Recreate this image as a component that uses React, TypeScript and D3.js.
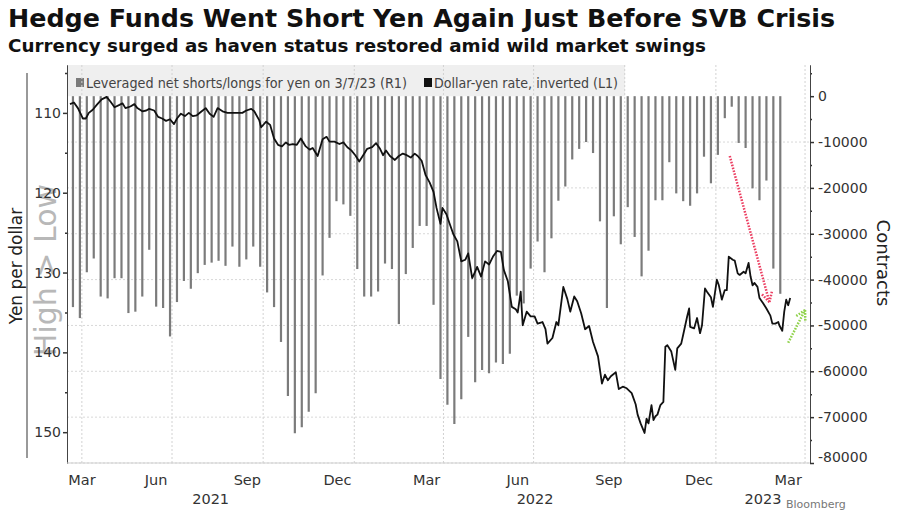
import React, { useRef, useEffect } from 'react';
import * as d3 from 'd3';

const title = 'Hedge Funds Went Short Yen Again Just Before SVB Crisis';
const subtitle = 'Currency surged as haven status restored amid wild market swings';
const legendShorts = 'Leveraged net shorts/longs for yen on 3/7/23 (R1)';
const legendRate = 'Dollar-yen rate, inverted (L1)';

// weekly CFTC report dates start here, one bar per week
const firstReport = '2021-03-23';
const netShorts = [
  -46000, -48400, -38400, -35400, -43700, -44100, -39700, -39700, -47300, -47000,
  -43700, -33500, -45900, -46200, -52400, -44900, -40300, -42000, -38600, -36800,
  -36300, -35900, -37000, -32800, -37200, -35600, -32800, -37200, -42800, -46000,
  -53600, -65400, -73500, -72200, -68800, -64800, -39100, -30900, -22900, -23600,
  -26100, -37700, -43700, -43700, -42600, -36500, -37700, -49700, -38800, -33100,
  -28300, -28300, -45500, -61700, -67300, -71500, -66100, -52500, -62400, -59700,
  -60400, -58100, -58400, -56200, -43500, -45200, -37600, -31700, -38400, -31000,
  -22800, -19700, -13800, -11500, -10000, -12400, -27300, -46200, -26200, -32300,
  -24200, -30700, -39300, -33700, -22700, -22700, -14400, -21200, -22900, -23900,
  -21200, -13200, -19000, -12800, -4800, -2300, -10200, -11300, -20100, -22700,
  -18400, -37600, -43100,
];

// dollar-yen, yen per dollar (plotted inverted)
const rate2021: [string, number][] = [
  ['2021-03-20', 108.9], ['2021-03-24', 108.7], ['2021-03-28', 109.4], ['2021-04-02', 110.7],
  ['2021-04-05', 110.7], ['2021-04-08', 110.0], ['2021-04-12', 109.6], ['2021-04-16', 109.0],
  ['2021-04-21', 108.3], ['2021-04-26', 108.0], ['2021-04-30', 108.6], ['2021-05-04', 109.3],
  ['2021-05-09', 109.0], ['2021-05-12', 108.8], ['2021-05-15', 109.4], ['2021-05-20', 109.2],
  ['2021-05-24', 108.9], ['2021-05-27', 109.4], ['2021-06-01', 109.8], ['2021-06-05', 109.7],
  ['2021-06-08', 109.5], ['2021-06-13', 109.7], ['2021-06-17', 110.5], ['2021-06-21', 110.7],
  ['2021-06-25', 111.0], ['2021-06-29', 110.8], ['2021-07-03', 111.4], ['2021-07-06', 110.7],
  ['2021-07-10', 110.1], ['2021-07-14', 110.4], ['2021-07-18', 110.0], ['2021-07-22', 110.4],
  ['2021-07-26', 110.3], ['2021-07-31', 109.8], ['2021-08-04', 109.4], ['2021-08-08', 110.1],
  ['2021-08-12', 110.5], ['2021-08-16', 109.4], ['2021-08-21', 109.8], ['2021-08-26', 110.0],
  ['2021-08-31', 110.0], ['2021-09-05', 110.0], ['2021-09-10', 110.0], ['2021-09-14', 109.7],
  ['2021-09-19', 109.5], ['2021-09-22', 109.8], ['2021-09-27', 110.9], ['2021-09-29', 111.8],
  ['2021-10-04', 111.1], ['2021-10-08', 111.5], ['2021-10-12', 113.2], ['2021-10-16', 114.0],
  ['2021-10-20', 114.2], ['2021-10-24', 113.7], ['2021-10-27', 114.0], ['2021-10-31', 113.9],
  ['2021-11-04', 114.0], ['2021-11-08', 113.2], ['2021-11-13', 114.2], ['2021-11-17', 114.6],
  ['2021-11-20', 114.4], ['2021-11-25', 115.4], ['2021-11-30', 113.3], ['2021-12-04', 113.0],
  ['2021-12-07', 113.6], ['2021-12-12', 113.6], ['2021-12-17', 113.9], ['2021-12-21', 113.7],
  ['2021-12-25', 114.3], ['2021-12-29', 114.7],
];

const rate2022: [string, number][] = [
  ['2022-01-02', 115.3], ['2022-01-06', 116.1], ['2022-01-10', 115.3], ['2022-01-14', 114.5],
  ['2022-01-19', 114.3], ['2022-01-23', 113.8], ['2022-01-27', 114.5], ['2022-01-30', 115.3],
  ['2022-02-02', 114.7], ['2022-02-06', 115.4], ['2022-02-11', 115.9], ['2022-02-15', 115.4],
  ['2022-02-19', 115.1], ['2022-02-23', 115.3], ['2022-02-27', 115.6], ['2022-03-03', 115.1],
  ['2022-03-06', 115.4], ['2022-03-10', 116.0], ['2022-03-14', 117.8], ['2022-03-18', 118.7],
  ['2022-03-22', 119.9], ['2022-03-25', 121.9], ['2022-03-29', 123.9], ['2022-03-31', 121.9],
  ['2022-04-04', 122.7], ['2022-04-07', 123.8], ['2022-04-11', 125.2], ['2022-04-15', 126.1],
  ['2022-04-19', 128.6], ['2022-04-23', 128.4], ['2022-04-26', 127.6], ['2022-04-30', 130.7],
  ['2022-05-03', 129.9], ['2022-05-05', 129.3], ['2022-05-09', 130.5], ['2022-05-13', 128.6],
  ['2022-05-17', 129.0], ['2022-05-21', 128.0], ['2022-05-25', 127.3], ['2022-05-29', 127.4],
  ['2022-06-01', 129.7], ['2022-06-05', 131.1], ['2022-06-09', 134.3], ['2022-06-13', 134.6],
  ['2022-06-15', 135.0], ['2022-06-18', 132.4], ['2022-06-20', 136.6], ['2022-06-24', 134.9],
  ['2022-06-28', 135.5], ['2022-07-02', 135.5], ['2022-07-05', 136.4], ['2022-07-10', 136.2],
  ['2022-07-13', 137.1], ['2022-07-15', 138.9], ['2022-07-20', 138.2], ['2022-07-24', 136.2],
  ['2022-07-26', 136.6], ['2022-07-31', 131.8], ['2022-08-04', 133.3], ['2022-08-07', 134.9],
  ['2022-08-11', 133.0], ['2022-08-14', 133.6], ['2022-08-18', 135.1], ['2022-08-22', 137.1],
  ['2022-08-26', 136.7], ['2022-08-30', 138.7], ['2022-09-04', 140.5], ['2022-09-08', 143.9],
  ['2022-09-11', 142.8], ['2022-09-14', 143.5], ['2022-09-17', 143.0], ['2022-09-22', 142.5],
  ['2022-09-25', 144.6], ['2022-09-29', 144.3], ['2022-10-03', 144.5], ['2022-10-08', 145.1],
  ['2022-10-12', 146.5], ['2022-10-14', 147.8], ['2022-10-17', 148.9], ['2022-10-19', 149.5],
  ['2022-10-21', 150.1], ['2022-10-23', 148.3], ['2022-10-25', 148.9], ['2022-10-28', 146.6],
  ['2022-10-30', 148.5], ['2022-11-01', 148.0], ['2022-11-03', 147.8], ['2022-11-06', 146.6],
  ['2022-11-09', 146.2], ['2022-11-11', 139.3], ['2022-11-13', 139.1], ['2022-11-17', 139.9],
  ['2022-11-21', 142.2], ['2022-11-23', 139.5], ['2022-11-27', 138.9], ['2022-11-29', 137.8],
  ['2022-12-03', 135.5], ['2022-12-05', 134.5], ['2022-12-06', 136.8], ['2022-12-10', 137.0],
  ['2022-12-13', 135.7], ['2022-12-16', 137.6], ['2022-12-18', 136.6], ['2022-12-21', 132.0],
  ['2022-12-23', 132.4], ['2022-12-27', 133.1], ['2022-12-29', 134.3],
];

const rate2023: [string, number][] = [
  ['2023-01-02', 130.9], ['2023-01-04', 131.6], ['2023-01-07', 133.4], ['2023-01-10', 132.2],
  ['2023-01-12', 132.2], ['2023-01-14', 128.0], ['2023-01-18', 128.4], ['2023-01-20', 128.5],
  ['2023-01-23', 130.1], ['2023-01-25', 130.3], ['2023-01-29', 129.9], ['2023-01-31', 130.1],
  ['2023-02-03', 128.8], ['2023-02-05', 130.5], ['2023-02-07', 131.6], ['2023-02-09', 131.3],
  ['2023-02-12', 131.8], ['2023-02-14', 133.2], ['2023-02-18', 133.9], ['2023-02-21', 134.5],
  ['2023-02-25', 135.4], ['2023-02-27', 136.4], ['2023-03-02', 136.4], ['2023-03-05', 136.2],
  ['2023-03-06', 136.6], ['2023-03-09', 137.3], ['2023-03-11', 134.9], ['2023-03-13', 133.4],
  ['2023-03-15', 134.1], ['2023-03-17', 133.2],
];

const xDomain = ['2021-03-17', '2023-04-06'];
const leftDomain = [104, 153.86];
const rightDomain = [6800, -80000];
const leftTicks = [110, 120, 130, 140, 150];
const leftMinorTicks = [105, 115, 125, 135, 145];
const rightTicks = [0, -10000, -20000, -30000, -40000, -50000, -60000, -70000, -80000];
const rightMinorTicks = [5000, -5000, -15000, -25000, -35000, -45000, -55000, -65000, -75000];
const gridDates = [
  '2021-04-01', '2021-07-01', '2021-10-01', '2022-01-01',
  '2022-04-01', '2022-07-01', '2022-10-01', '2023-01-01', '2023-04-01',
];
const monthLabels: [string, string][] = [
  ['2021-03-15', 'Mar'], ['2021-06-15', 'Jun'], ['2021-09-15', 'Sep'], ['2021-12-15', 'Dec'],
  ['2022-03-15', 'Mar'], ['2022-06-15', 'Jun'], ['2022-09-15', 'Sep'], ['2022-12-15', 'Dec'],
  ['2023-03-15', 'Mar'],
];
const yearLabels = ['2021', '2022', '2023'];
// annotation arrows drawn on the chart (date, yen)
const redArrow: [string, number][] = [['2023-01-15', 115.4], ['2023-02-24', 133.7]];
const greenArrow: [string, number][] = [['2023-03-15', 138.8], ['2023-04-01', 134.7]];

const W = 900;
const H = 510;
const plot = { left: 67, right: 810, top: 65, bottom: 463 };
const FONT = 'DejaVu Sans';

const App: React.FC = () => {
  const svgRef = useRef<SVGSVGElement | null>(null);

  useEffect(() => {
    if (!svgRef.current) return;
    const svg = d3.select(svgRef.current);
    svg.selectAll('*').remove();

    const parse = d3.utcParse('%Y-%m-%d');
    const x = d3.scaleUtc()
      .domain(xDomain.map(d => parse(d) as Date))
      .range([plot.left, plot.right]);
    const yL = d3.scaleLinear().domain(leftDomain).range([plot.top, plot.bottom]);
    const yR = d3.scaleLinear().domain(rightDomain).range([plot.top, plot.bottom]);

    svg.append('rect').attr('width', W).attr('height', H).attr('fill', '#fff');

    // titles
    svg.append('text')
      .attr('x', 8).attr('y', 27)
      .attr('font-family', FONT).attr('font-weight', 'bold').attr('font-size', 24)
      .attr('fill', '#111')
      .attr('textLength', 827).attr('lengthAdjust', 'spacingAndGlyphs')
      .text(title);
    svg.append('text')
      .attr('x', 8).attr('y', 52)
      .attr('font-family', FONT).attr('font-weight', 'bold').attr('font-size', 17.5)
      .attr('fill', '#111')
      .attr('textLength', 698).attr('lengthAdjust', 'spacingAndGlyphs')
      .text(subtitle);

    // legend band
    svg.append('rect')
      .attr('x', plot.left).attr('y', plot.top)
      .attr('width', 558).attr('height', yR(0) - plot.top)
      .attr('fill', '#efefef');
    svg.append('rect').attr('x', 76).attr('y', 78).attr('width', 8).attr('height', 9).attr('fill', '#7a7a7a');
    svg.append('text')
      .attr('x', 86).attr('y', 87.5)
      .attr('font-family', FONT).attr('font-size', 13.5).attr('fill', '#444')
      .attr('textLength', 321).attr('lengthAdjust', 'spacingAndGlyphs')
      .text(legendShorts);
    svg.append('rect').attr('x', 424).attr('y', 78).attr('width', 8).attr('height', 9).attr('fill', '#111');
    svg.append('text')
      .attr('x', 434).attr('y', 87.5)
      .attr('font-family', FONT).attr('font-size', 13.5).attr('fill', '#444')
      .attr('textLength', 184).attr('lengthAdjust', 'spacingAndGlyphs')
      .text(legendRate);

    // gridlines
    svg.append('g').selectAll('line')
      .data(gridDates)
      .enter().append('line')
      .attr('x1', d => x(parse(d) as Date)).attr('x2', d => x(parse(d) as Date))
      .attr('y1', plot.top).attr('y2', plot.bottom)
      .attr('stroke', '#d2d2d2').attr('stroke-dasharray', '2,2');
    svg.append('g').selectAll('line')
      .data(rightTicks.filter(t => t !== 0))
      .enter().append('line')
      .attr('x1', plot.left).attr('x2', plot.right)
      .attr('y1', d => yR(d)).attr('y2', d => yR(d))
      .attr('stroke', '#d8d8d8').attr('stroke-dasharray', '2,2');

    // weekly positioning bars
    const start = parse(firstReport) as Date;
    svg.append('g').selectAll('line')
      .data(netShorts)
      .enter().append('line')
      .attr('x1', (_, i) => x(d3.utcDay.offset(start, i * 7)))
      .attr('x2', (_, i) => x(d3.utcDay.offset(start, i * 7)))
      .attr('y1', yR(0))
      .attr('y2', d => yR(d))
      .attr('stroke', '#7b7b7b').attr('stroke-width', 2.2);

    // dollar-yen line
    const rate = [...rate2021, ...rate2022, ...rate2023].map(([d, v]) => ({ date: parse(d) as Date, value: v }));
    const line = d3.line<{ date: Date; value: number }>()
      .x(d => x(d.date))
      .y(d => yL(d.value))
      .curve(d3.curveLinear);
    svg.append('path')
      .datum(rate)
      .attr('fill', 'none')
      .attr('stroke', '#111')
      .attr('stroke-width', 1.8)
      .attr('stroke-linejoin', 'round')
      .attr('d', line);

    // arrows
    const drawArrow = (pts: [string, number][], color: string) => {
      const x1 = x(parse(pts[0][0]) as Date), y1 = yL(pts[0][1]);
      const x2 = x(parse(pts[1][0]) as Date), y2 = yL(pts[1][1]);
      const g = svg.append('g')
        .attr('stroke', color).attr('stroke-width', 2.5)
        .attr('stroke-dasharray', '1.6,1.4').attr('fill', 'none');
      g.append('line').attr('x1', x1).attr('y1', y1).attr('x2', x2).attr('y2', y2);
      const ang = Math.atan2(y2 - y1, x2 - x1);
      [-0.5, 0.5].forEach(o => {
        g.append('line')
          .attr('x1', x2).attr('y1', y2)
          .attr('x2', x2 - 11 * Math.cos(ang + o))
          .attr('y2', y2 - 11 * Math.sin(ang + o));
      });
    };
    drawArrow(redArrow, '#ec3f62');
    drawArrow(greenArrow, '#8fd24a');

    // side labels (drawn under the axis labels)
    svg.append('text')
      .attr('transform', 'translate(56,270) rotate(-90)')
      .attr('text-anchor', 'middle')
      .attr('font-family', FONT).attr('font-size', 30).attr('fill', '#b8b8b8')
      .text('High > Low');
    svg.append('line')
      .attr('x1', 27).attr('x2', 27).attr('y1', 73).attr('y2', 458)
      .attr('stroke', '#555').attr('stroke-width', 1.2);
    svg.append('text')
      .attr('transform', 'translate(22,266) rotate(-90)')
      .attr('text-anchor', 'middle')
      .attr('font-family', FONT).attr('font-size', 17).attr('fill', '#222')
      .text('Yen per dollar');
    svg.append('text')
      .attr('transform', 'translate(877,263) rotate(90)')
      .attr('text-anchor', 'middle')
      .attr('font-family', FONT).attr('font-size', 18).attr('fill', '#222')
      .text('Contracts');

    // left axis
    const styleAxis = (g: d3.Selection<SVGGElement, unknown, null, undefined>) => {
      g.selectAll('.domain').attr('stroke', '#444');
      g.selectAll('.tick line').attr('stroke', '#333').attr('stroke-width', 1.5);
      g.selectAll('.tick text')
        .attr('font-family', FONT).attr('font-size', 14).attr('fill', '#333');
    };
    svg.append('g')
      .attr('transform', `translate(${plot.left},0)`)
      .call(d3.axisLeft(yL).tickValues(leftMinorTicks).tickSize(2).tickSizeOuter(0).tickFormat(() => ''))
      .call(styleAxis);
    svg.append('g')
      .attr('transform', `translate(${plot.left},0)`)
      .call(d3.axisLeft(yL).tickValues(leftTicks).tickSize(4).tickPadding(2).tickSizeOuter(0))
      .call(styleAxis);

    // right axis
    svg.append('g')
      .attr('transform', `translate(${plot.right},0)`)
      .call(d3.axisRight(yR).tickValues(rightMinorTicks).tickSize(2).tickSizeOuter(0).tickFormat(() => ''))
      .call(styleAxis);
    const rAxis = svg.append('g')
      .attr('transform', `translate(${plot.right},0)`)
      .call(d3.axisRight(yR).tickValues(rightTicks).tickSize(4).tickPadding(4).tickSizeOuter(0)
        .tickFormat(d => String(d)))
      .call(styleAxis);
    rAxis.selectAll<SVGTextElement, number>('.tick text')
      .attr('dy', d => (d === -80000 ? '-0.1em' : '0.32em'));

    // bottom axis baseline
    svg.append('line')
      .attr('x1', plot.left).attr('x2', plot.right)
      .attr('y1', plot.bottom).attr('y2', plot.bottom)
      .attr('stroke', '#cfcfcf');

    // month and year labels
    svg.append('g').selectAll('text')
      .data(monthLabels)
      .enter().append('text')
      .attr('x', d => Math.max(x(parse(d[0]) as Date), plot.left + 15))
      .attr('y', 485)
      .attr('text-anchor', 'middle')
      .attr('font-family', FONT).attr('font-size', 14.5).attr('fill', '#333')
      .text(d => d[1]);
    svg.append('g').selectAll('text')
      .data(yearLabels)
      .enter().append('text')
      .attr('x', d => {
        const a = Math.max(x(parse(`${d}-01-01`) as Date), plot.left);
        const b = Math.min(x(parse(`${+d + 1}-01-01`) as Date), plot.right);
        return (a + b) / 2;
      })
      .attr('y', 504)
      .attr('text-anchor', 'middle')
      .attr('font-family', FONT).attr('font-size', 14.5).attr('fill', '#333')
      .text(d => d);

    svg.append('text')
      .attr('x', 786).attr('y', 508)
      .attr('font-family', FONT).attr('font-size', 11).attr('fill', '#777')
      .text('Bloomberg');
  }, []);

  return (
    <svg
      ref={svgRef}
      width={W}
      height={H}
      style={{ position: 'absolute', left: 0, top: 0, display: 'block' }}
    />
  );
};

export default App;
